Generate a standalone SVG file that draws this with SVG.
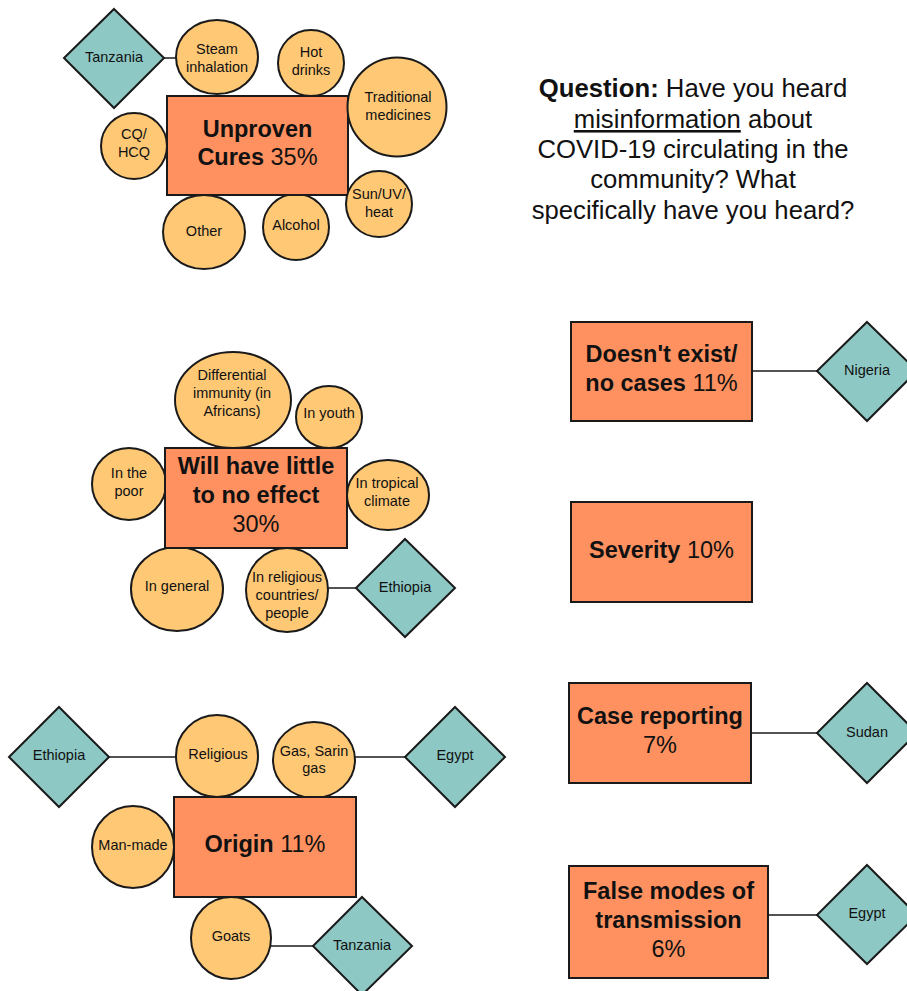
<svg xmlns="http://www.w3.org/2000/svg" width="907" height="991" viewBox="0 0 907 991">
<style>
text{font-family:"Liberation Sans",Arial,sans-serif;fill:#111;text-anchor:middle}
.c{fill:#FFC875;stroke:#1a1a1a;stroke-width:2}
.d{fill:#8DC8C4;stroke:#1a1a1a;stroke-width:2}
.r{fill:#FF9160;stroke:#1a1a1a;stroke-width:2}
.s{font-size:14.5px}
.b{font-size:23.5px}
.q{font-size:25.7px}
.bold{font-weight:bold}
.ln{stroke:#1a1a1a;stroke-width:1.5;fill:none}
</style>
<rect width="907" height="991" fill="#fff"/>
<g id="connectors">
<line class="ln" x1="163" y1="58" x2="177" y2="58"/>
<line class="ln" x1="328" y1="588" x2="356" y2="588"/>
<line class="ln" x1="109" y1="757" x2="176" y2="757"/>
<line class="ln" x1="355" y1="757" x2="405" y2="757"/>
<line class="ln" x1="271" y1="946" x2="313" y2="946"/>
<line class="ln" x1="752" y1="371" x2="817" y2="371"/>
<line class="ln" x1="751" y1="733" x2="817" y2="733"/>
<line class="ln" x1="768" y1="915" x2="817" y2="915"/>
</g>
<!-- Unproven cures cluster -->
<g id="tanzania1"><polygon class="d" points="114,9 164,58 114,108 64,58"/><text class="s" x="114" y="62">Tanzania</text></g>
<g id="steam"><ellipse class="c" cx="217" cy="57" rx="41" ry="37"/><text class="s" x="217" y="54">Steam</text><text class="s" x="217" y="72">inhalation</text></g>
<g id="hotdrinks"><circle class="c" cx="311" cy="63" r="33"/><text class="s" x="311" y="57">Hot</text><text class="s" x="311" y="75">drinks</text></g>
<g id="cqhcq"><circle class="c" cx="134" cy="146" r="33"/><text class="s" x="134" y="139">CQ/</text><text class="s" x="134" y="157">HCQ</text></g>
<g id="other"><ellipse class="c" cx="204" cy="232" rx="41" ry="37"/><text class="s" x="204" y="236">Other</text></g>
<g id="alcohol"><circle class="c" cx="296" cy="227" r="33"/><text class="s" x="296" y="230">Alcohol</text></g>
<g id="unproven"><rect class="r" x="167" y="96" width="181" height="99"/><text class="b" x="257.5" y="137"><tspan class="bold">Unproven</tspan></text><text class="b" x="257.5" y="165"><tspan class="bold">Cures</tspan> 35%</text></g>
<g id="tradmed"><circle class="c" cx="397" cy="107" r="49.5"/><text class="s" x="398" y="102">Traditional</text><text class="s" x="398" y="120">medicines</text></g>
<g id="sunuv"><circle class="c" cx="379" cy="204" r="33"/><text class="s" x="379" y="199">Sun/UV/</text><text class="s" x="379" y="217">heat</text></g>
<!-- Question -->
<g id="question">
<text class="q" x="693" y="97"><tspan class="bold">Question:</tspan> Have you heard</text>
<text class="q" x="693" y="128"><tspan text-decoration="underline">misinformation</tspan> about</text>
<text class="q" x="693" y="158">COVID-19 circulating in the</text>
<text class="q" x="693" y="188">community? What</text>
<text class="q" x="693" y="219">specifically have you heard?</text>
</g>
<!-- Little effect cluster -->
<g id="diffimm"><ellipse class="c" cx="233" cy="400" rx="58" ry="48"/><text class="s" x="232" y="380">Differential</text><text class="s" x="232" y="398">immunity (in</text><text class="s" x="232" y="416">Africans)</text></g>
<g id="youth"><ellipse class="c" cx="329" cy="417" rx="33" ry="31"/><text class="s" x="329" y="418">In youth</text></g>
<g id="poor"><ellipse class="c" cx="129" cy="484" rx="37" ry="36"/><text class="s" x="129" y="478">In the</text><text class="s" x="129" y="496">poor</text></g>
<g id="general"><ellipse class="c" cx="177" cy="589" rx="46" ry="42"/><text class="s" x="177" y="591">In general</text></g>
<g id="religiousc"><ellipse class="c" cx="287" cy="590" rx="41" ry="42"/><text class="s" x="287" y="582">In religious</text><text class="s" x="287" y="600">countries/</text><text class="s" x="287" y="618">people</text></g>
<g id="littleeffect"><rect class="r" x="165" y="448" width="182" height="100"/><text class="b" x="256" y="474"><tspan class="bold">Will have little</tspan></text><text class="b" x="256" y="503"><tspan class="bold">to no effect</tspan></text><text class="b" x="256" y="532">30%</text></g>
<g id="tropical"><ellipse class="c" cx="388" cy="495" rx="41" ry="35"/><text class="s" x="387" y="488">In tropical</text><text class="s" x="387" y="506">climate</text></g>
<g id="ethiopia1"><polygon class="d" points="405,539 455,588 405,637 356,588"/><text class="s" x="405" y="592">Ethiopia</text></g>
<!-- Origin cluster -->
<g id="ethiopia2"><polygon class="d" points="59,707 109,757 59,807 9,757"/><text class="s" x="59" y="760">Ethiopia</text></g>
<g id="religious"><ellipse class="c" cx="217" cy="756" rx="41" ry="41"/><text class="s" x="218" y="759">Religious</text></g>
<g id="sarin"><ellipse class="c" cx="314" cy="760" rx="41" ry="38"/><text class="s" x="314" y="756">Gas, Sarin</text><text class="s" x="314" y="773">gas</text></g>
<g id="egypt1"><polygon class="d" points="455,707 505,757 455,807 405,757"/><text class="s" x="455" y="760">Egypt</text></g>
<g id="manmade"><circle class="c" cx="133" cy="847" r="41"/><text class="s" x="133" y="850">Man-made</text></g>
<g id="goats"><ellipse class="c" cx="231" cy="938" rx="40" ry="41"/><text class="s" x="231" y="941">Goats</text></g>
<g id="origin"><rect class="r" x="174" y="797" width="182" height="100"/><text class="b" x="265" y="852"><tspan class="bold">Origin</tspan> 11%</text></g>
<g id="tanzania2"><polygon class="d" points="362,897 412,946 362,995 313,946"/><text class="s" x="362" y="950">Tanzania</text></g>
<!-- Right column -->
<g id="doesntexist"><rect class="r" x="571" y="322" width="181" height="99"/><text class="b" x="661.5" y="362"><tspan class="bold">Doesn't exist/</tspan></text><text class="b" x="661.5" y="391"><tspan class="bold">no cases</tspan> 11%</text></g>
<g id="nigeria"><polygon class="d" points="867,322 917,371 867,421 817,371"/><text class="s" x="867" y="375">Nigeria</text></g>
<g id="severity"><rect class="r" x="571" y="502" width="181" height="100"/><text class="b" x="661.5" y="558"><tspan class="bold">Severity</tspan> 10%</text></g>
<g id="casereporting"><rect class="r" x="569" y="683" width="182" height="100"/><text class="b" x="660" y="724"><tspan class="bold">Case reporting</tspan></text><text class="b" x="660" y="753">7%</text></g>
<g id="sudan"><polygon class="d" points="867,683 917,733 867,783 817,733"/><text class="s" x="867" y="737">Sudan</text></g>
<g id="falsemodes"><rect class="r" x="569" y="866" width="199" height="112"/><text class="b" x="668.5" y="899"><tspan class="bold">False modes of</tspan></text><text class="b" x="668.5" y="928"><tspan class="bold">transmission</tspan></text><text class="b" x="668.5" y="957">6%</text></g>
<g id="egypt2"><polygon class="d" points="867,865 917,915 867,964 817,915"/><text class="s" x="867" y="918">Egypt</text></g>
</svg>
